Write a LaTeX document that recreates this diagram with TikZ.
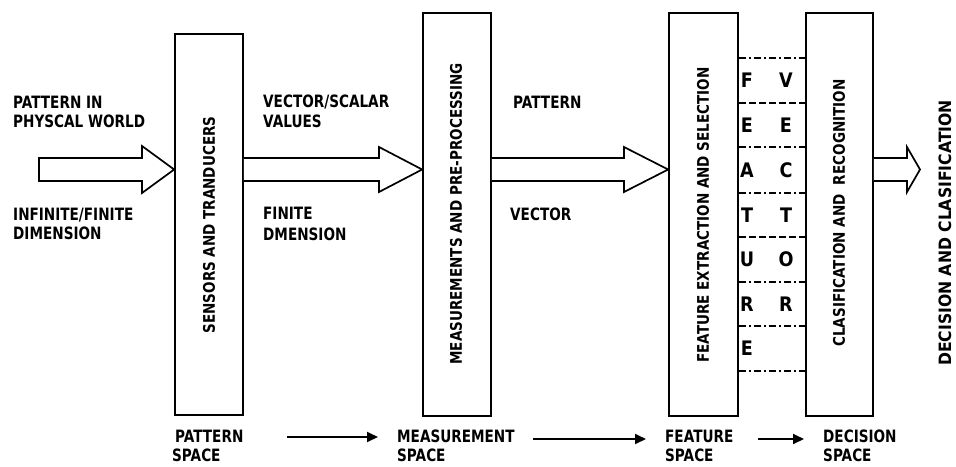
\documentclass[tikz,border=0pt]{standalone}
\usepackage{fontspec}
\usetikzlibrary{arrows.meta,calc}
\newfontfamily\labfont{DejaVu Sans}[FakeStretch=0.8]
\newfontfamily\letfont{DejaVu Sans}[FakeStretch=0.88]
\newfontfamily\boxfont{DejaVu Sans}[FakeStretch=0.845]
\newfontfamily\decfont{DejaVu Sans}[FakeStretch=0.92]
\tikzset{
  lab/.style={font=\labfont\bfseries\fontsize{17}{19}\selectfont, anchor=base west, inner sep=0pt},
  boxlab/.style={font=\boxfont\bfseries\fontsize{16}{18}\selectfont, rotate=90, inner sep=0pt},
  declab/.style={font=\decfont\bfseries\fontsize{17}{18}\selectfont, rotate=90, inner sep=0pt},
  letter/.style={font=\letfont\bfseries\fontsize{20}{22}\selectfont, inner sep=0pt},
  stagebox/.style={draw, line width=1.7pt, minimum width=68pt, inner sep=0pt},
  hollow/.style={draw, line width=1.7pt, fill=white, line join=miter},
  sep/.style={line width=1.5pt, dash pattern=on 7pt off 3pt on 2pt off 3pt},
  sepd/.style={line width=1.5pt, dash pattern=on 7pt off 3pt},
  smallarr/.style={line width=1.8pt, -{Triangle[length=11pt,width=10pt]}}
}
\begin{document}
\begin{tikzpicture}[x=1pt,y=-1pt]
\useasboundingbox (0,0) rectangle (956,466);
% stage boxes
\node[stagebox, minimum height=381pt] (b1) at (209,224.5) {};
\node[stagebox, minimum height=403pt] (b2) at (457,214.5) {};
\node[stagebox, minimum width=69pt, minimum height=403pt] (b3) at (703.5,214.5) {};
\node[stagebox, minimum width=67pt, minimum height=403pt] (b4) at (839.5,214.5) {};
% box labels
\node[boxlab] (t1) at (209,225) {SENSORS AND TRANDUCERS};
\node[boxlab] (t2) at (456,214) {MEASUREMENTS AND PRE-PROCESSING};
\node[boxlab] (t3) at (703,215) {FEATURE EXTRACTION AND SELECTION};
\node[boxlab] (t4) at (839,213) {CLASIFICATION AND\ \ RECOGNITION};
\node[declab] (t5) at (945,233) {DECISION AND CLASIFICATION};
% arrow level
\coordinate (ay) at (0,169.5);
% hollow arrows
\draw[hollow] (39,158) -- (142,158) -- (142,146) -- (b1.west |- ay) -- (142,193) -- (142,181) -- (39,181) -- cycle;
\draw[hollow] (b1.east |- 0,158) -- (379,158) -- (379,147) -- (b2.west |- ay) -- (379,192) -- (379,181) -- (b1.east |- 0,181);
\draw[hollow] (b2.east |- 0,158) -- (624,158) -- (624,147) -- (b3.west |- ay) -- (624,192) -- (624,181) -- (b2.east |- 0,181);
\draw[hollow] (b4.east |- 0,158) -- (907,158) -- (907,147) -- (920,169.5) -- (907,192) -- (907,181) -- (b4.east |- 0,181);
% feature vector separators
\foreach \yy/\st in {58/sep,103/sepd,147/sep,193/sep,237/sepd,282/sep,326/sep,371/sep}{
  \draw[\st] (b3.east |- 0,\yy) -- (b4.west |- 0,\yy);
}
% letters
\node[letter] (lf) at (747,80.5) {F};
\node[letter] (lv) at (786,80.5) {V};
\node[letter] (le1) at (747,125) {E};
\node[letter] (le2) at (786,125) {E};
\node[letter] (la) at (747,170) {A};
\node[letter] (lc) at (786,170) {C};
\node[letter] (lt1) at (747,215) {T};
\node[letter] (lt2) at (786,215) {T};
\node[letter] (lu) at (747,259.5) {U};
\node[letter] (lo) at (786,259.5) {O};
\node[letter] (lr1) at (747,304) {R};
\node[letter] (lr2) at (786,304) {R};
\node[letter] (le3) at (747,348.5) {E};
% side labels
\node[lab] (p1) at (13,108) {PATTERN IN};
\node[lab] (p2) at (13,127) {PHYSCAL WORLD};
\node[lab] (i1) at (13,220) {INFINITE/FINITE};
\node[lab] (i2) at (13,239) {DIMENSION};
\node[lab] (v1) at (263,107) {VECTOR/SCALAR};
\node[lab] (v2) at (263,127) {VALUES};
\node[lab] (f1) at (263,219) {FINITE};
\node[lab] (f2) at (263,240) {DMENSION};
\node[lab] (pp) at (513,108) {PATTERN};
\node[lab] (vv) at (510,220) {VECTOR};
% bottom labels
\node[lab] (s1a) at (175,442) {PATTERN};
\node[lab] (s1b) at (172,461) {SPACE};
\node[lab] (s2a) at (397,442) {MEASUREMENT};
\node[lab] (s2b) at (397,461) {SPACE};
\node[lab] (s3a) at (665,442) {FEATURE};
\node[lab] (s3b) at (665,461) {SPACE};
\node[lab] (s4a) at (823,442) {DECISION};
\node[lab] (s4b) at (823,461) {SPACE};
% small arrows
\coordinate (a1s) at (287,437);
\coordinate (a1e) at (378,437);
\coordinate (a2s) at (533,439);
\coordinate (a2e) at (646,439);
\coordinate (a3s) at (758,439);
\coordinate (a3e) at (804,439);
\draw[smallarr] (a1s) -- (a1e);
\draw[smallarr] (a2s) -- (a2e);
\draw[smallarr] (a3s) -- (a3e);
\end{tikzpicture}
\end{document}
